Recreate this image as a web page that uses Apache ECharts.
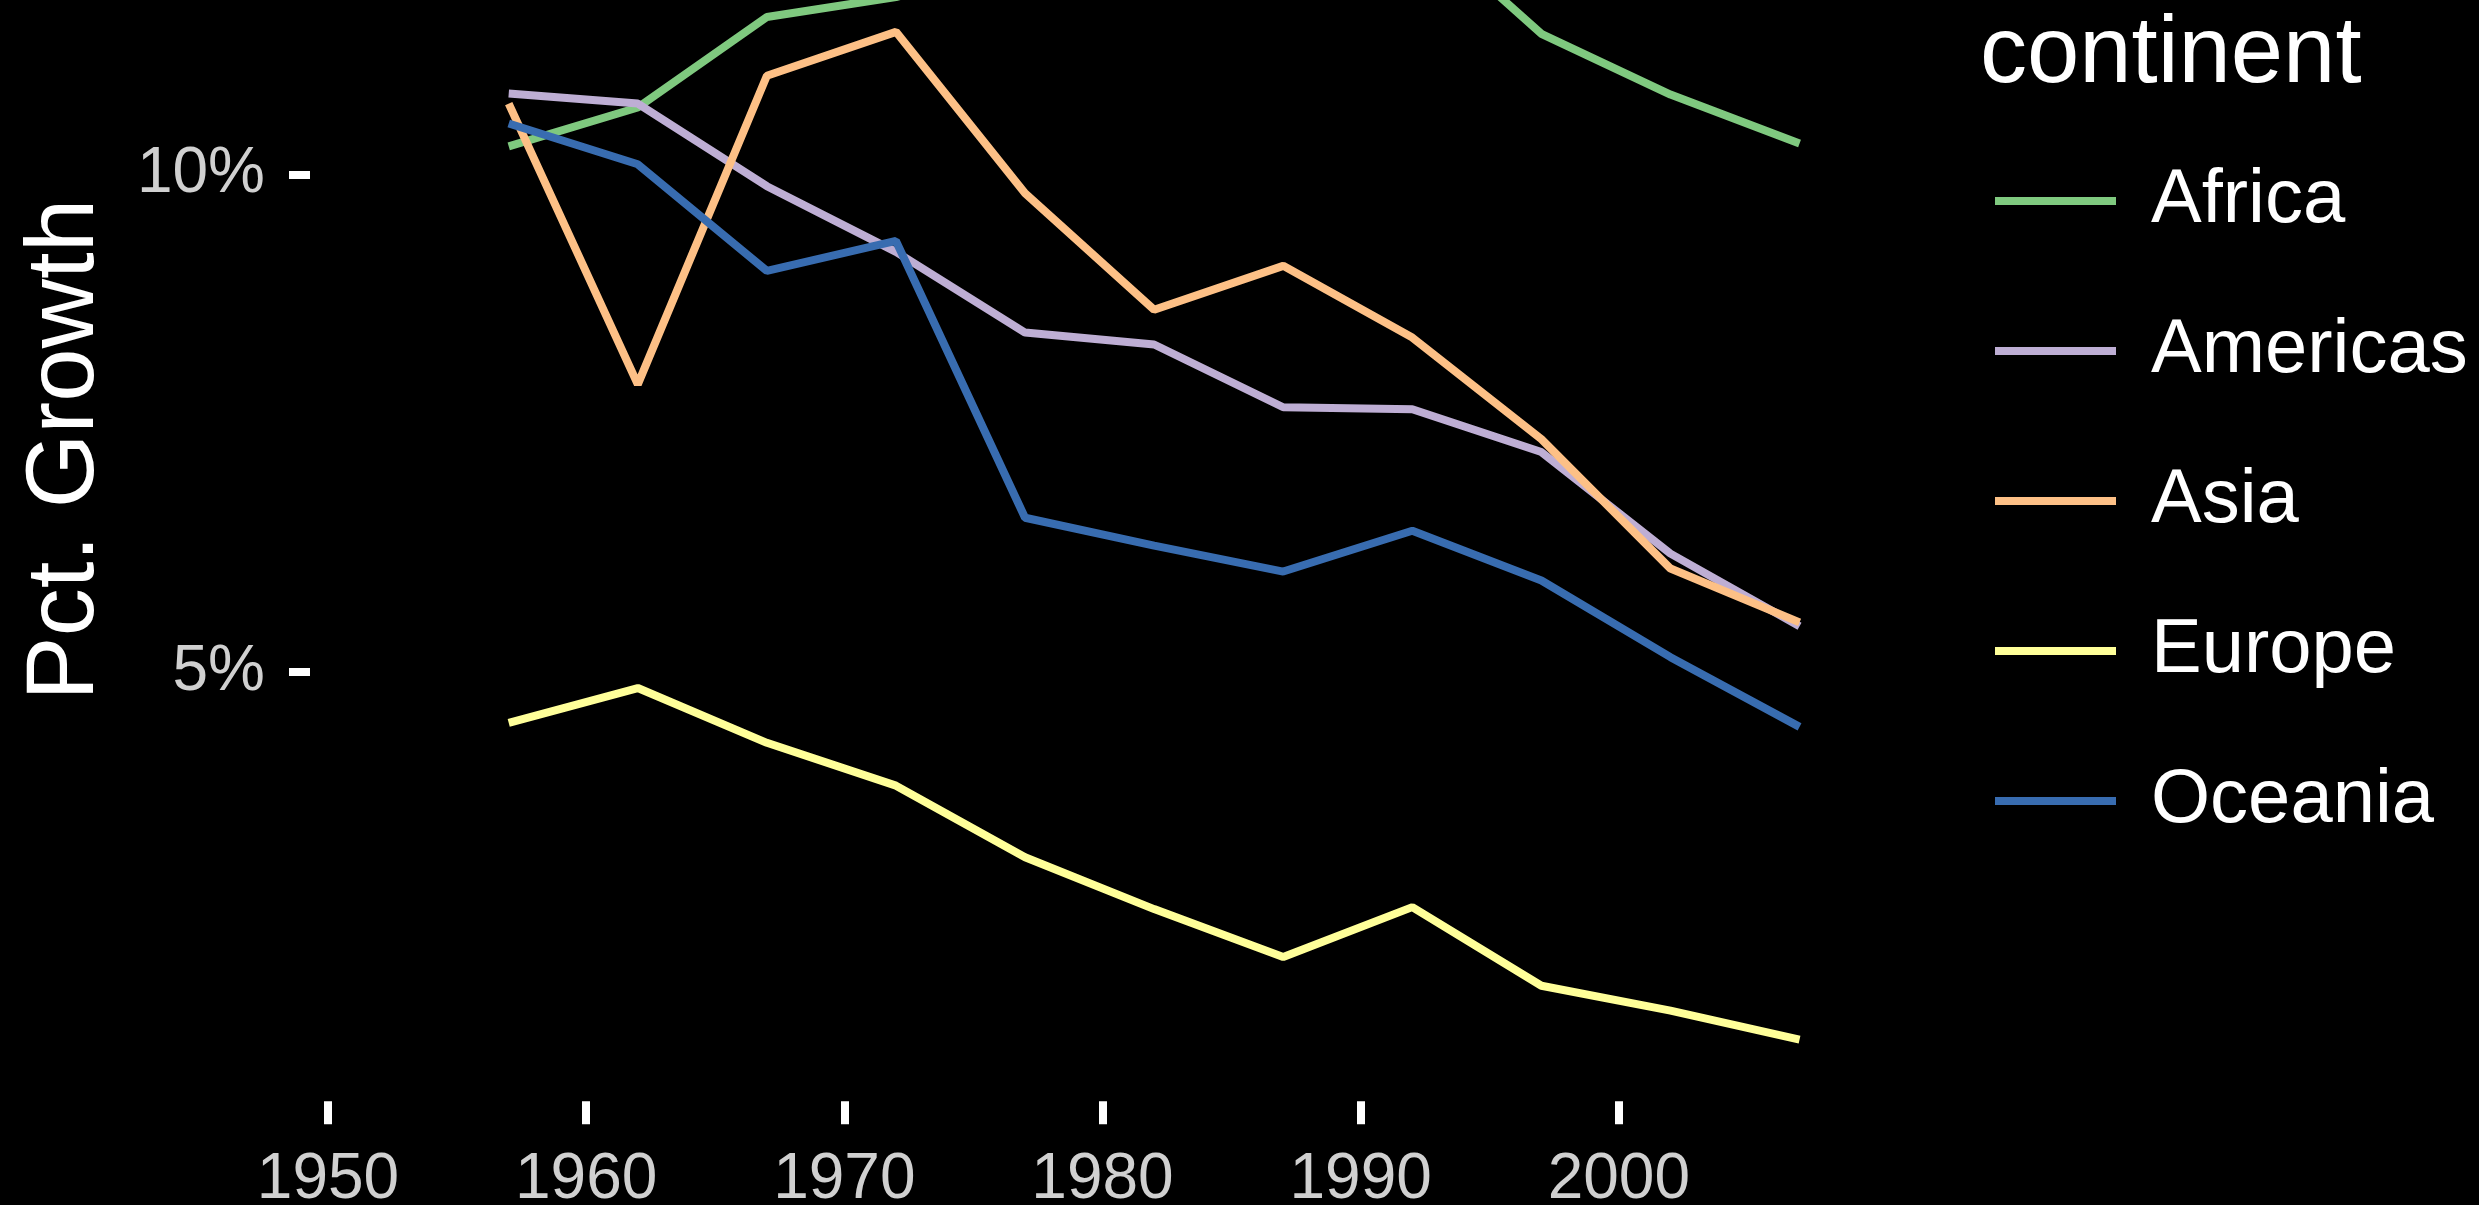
<!DOCTYPE html>
<html>
<head>
<meta charset="utf-8">
<title>Pct. Growth by continent</title>
<script src="https://cdn.jsdelivr.net/npm/echarts@6/dist/echarts.min.js"></script>
<style>
  html, body { margin: 0; padding: 0; background: #000; }
  #main { width: 2479px; height: 1205px; }
</style>
</head>
<body>
<div id="main"></div>
<script>
// years on the x axis
const years = [1957, 1962, 1967, 1972, 1977, 1982, 1987, 1992, 1997, 2002, 2007];

// percent growth per continent
const africa   = [10.28, 10.67, 11.58, 11.78, 12.10, 12.35, 12.50, 12.57, 11.41, 10.80, 10.31];
const americas = [10.81, 10.71, 9.88, 9.22, 8.41, 8.29, 7.66, 7.64, 7.21, 6.19, 5.46];
const asia     = [10.71, 7.89, 10.99, 11.43, 9.81, 8.64, 9.08, 8.36, 7.34, 6.04, 5.50];
const europe   = [4.49, 4.84, 4.29, 3.86, 3.14, 2.62, 2.14, 2.64, 1.85, 1.60, 1.31];
const oceania  = [10.51, 10.10, 9.03, 9.33, 6.55, 6.27, 6.01, 6.42, 5.92, 5.15, 4.45];

const continents = ['Africa', 'Americas', 'Asia', 'Europe', 'Oceania'];
const colors = ['#7fc97f', '#beaed4', '#fdc086', '#ffff99', '#386cb0'];

// tick labels
const xTicks = [1950, 1960, 1970, 1980, 1990, 2000];
const yTicks = [5, 10];

const font = 'Liberation Sans, Arial, Helvetica, sans-serif';

const seriesValues = [africa, americas, asia, europe, oceania];

var myChart = echarts.init(document.getElementById('main'));

myChart.setOption({
  animation: false,
  backgroundColor: '#000',
  color: colors,
  title: {
    text: 'continent',
    left: 1975,
    top: 4,
    textStyle: { color: '#fff', fontSize: 94, fontWeight: 'normal', fontFamily: font }
  },
  legend: {
    data: continents,
    orient: 'vertical',
    left: 1990,
    top: 158,
    icon: 'rect',
    itemWidth: 121,
    itemHeight: 8,
    itemGap: 74,
    textStyle: { color: '#fff', fontSize: 76, fontFamily: font, padding: [0, 0, 0, 30] }
  },
  grid: {
    left: 328,
    right: 602,
    top: 0,
    bottom: 109.7,
    // keep the panel where it is, labels may run to the edge
    outerBoundsMode: 'none'
  },
  xAxis: {
    type: 'value',
    min: 1950,
    max: 2010,
    offset: 6,
    splitLine: { show: false },
    axisLine: { show: false },
    axisTick: {
      show: true,
      customValues: xTicks,
      length: 23,
      lineStyle: { color: '#fff', width: 8 }
    },
    axisLabel: {
      customValues: xTicks,
      margin: 47,
      color: '#d0d0d0',
      fontSize: 64,
      fontFamily: font,
      formatter: v => String(v)
    }
  },
  yAxis: {
    type: 'value',
    min: 0.75,
    max: 11.75,
    offset: 18,
    name: 'Pct. Growth',
    nameLocation: 'middle',
    nameGap: 195,
    // the title sits higher than the middle of the visible panel
    nameTextStyle: { color: '#fff', fontSize: 96, fontFamily: font, padding: [0, 0, 0, 196] },
    splitLine: { show: false },
    axisLine: { show: false },
    axisTick: {
      show: true,
      customValues: yTicks,
      length: 21,
      lineStyle: { color: '#fff', width: 8 }
    },
    axisLabel: {
      customValues: yTicks,
      margin: 45,
      color: '#d0d0d0',
      fontSize: 64,
      fontFamily: font,
      formatter: v => v + '%'
    }
  },
  series: continents.map((name, i) => ({
    name: name,
    type: 'line',
    symbol: 'none',
    clip: true,
    lineStyle: { width: 8, color: colors[i] },
    itemStyle: { color: colors[i] },
    data: years.map((y, j) => [y, seriesValues[i][j]])
  }))
});
</script>
</body>
</html>
